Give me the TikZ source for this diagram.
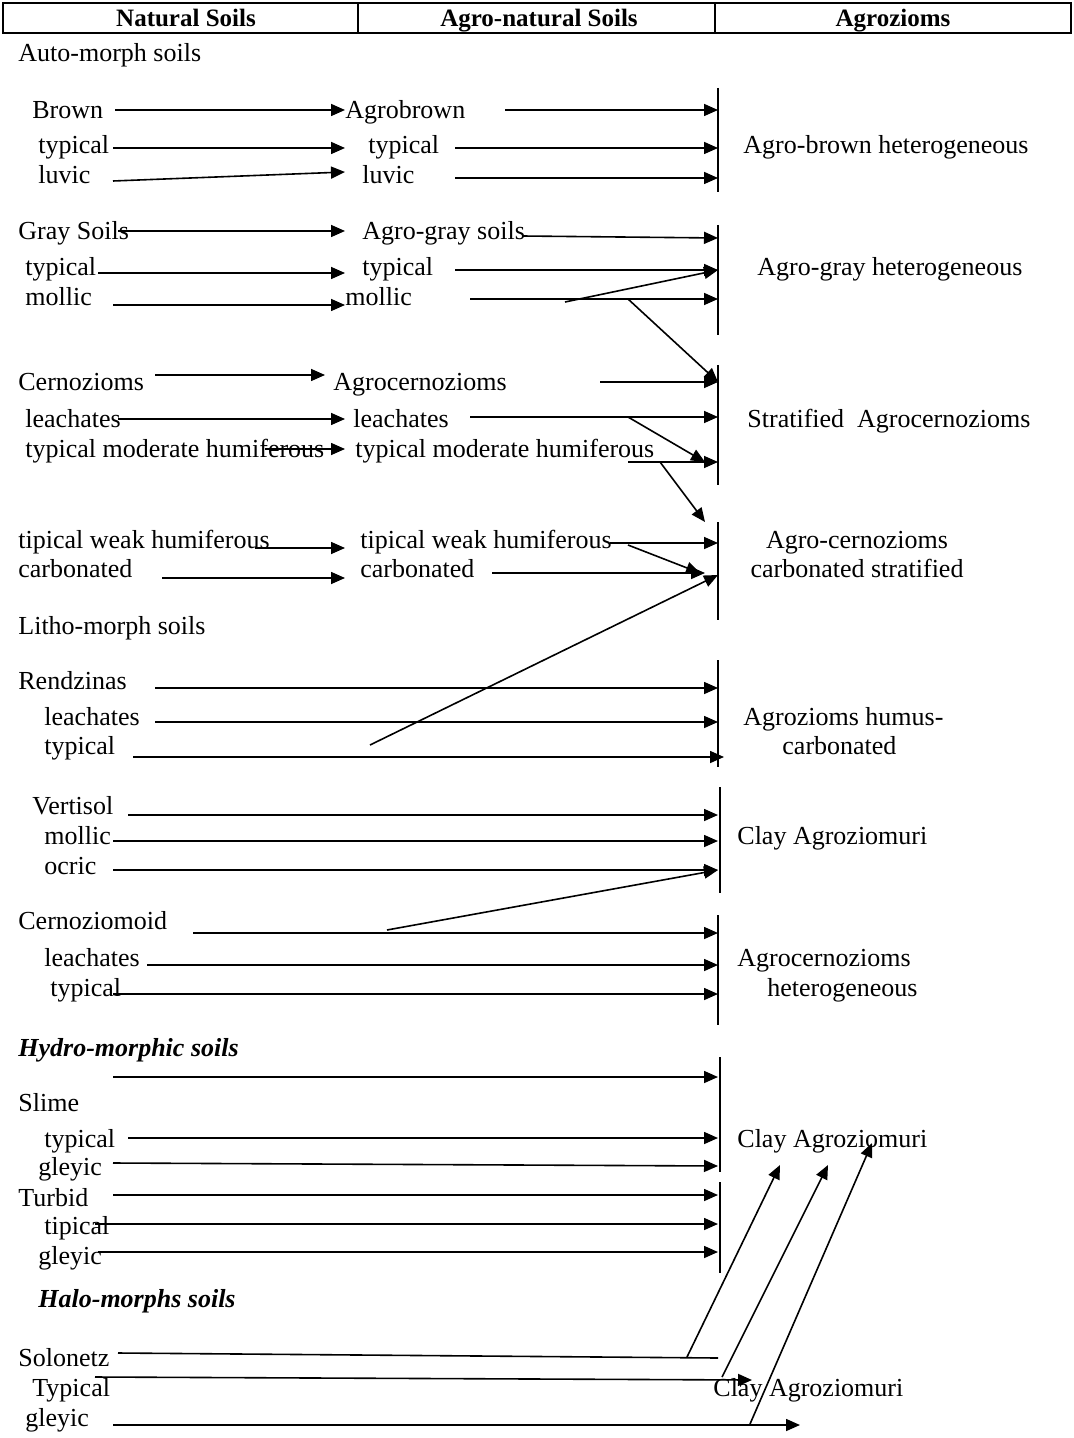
\documentclass[tikz,border=0pt]{standalone}
\usepackage{fontspec}
\setmainfont{Liberation Serif}
\usetikzlibrary{arrows.meta}

\begin{document}
\begin{tikzpicture}[x=0.5pt,y=-0.5pt]
\tikzstyle{every node}=[inner sep=0pt,anchor=base west,font=\fontsize{13}{15}\selectfont];
\tikzstyle{arr}=[-{Triangle[length=7pt,width=6pt]},line width=0.8pt];
\tikzstyle{bar}=[line width=0.8pt];
\tikzstyle{head}=[anchor=base,font=\fontsize{12.5}{15}\selectfont\bfseries];
\tikzstyle{group}=[font=\fontsize{13}{15}\selectfont\bfseries\itshape];
\useasboundingbox (0,0) rectangle (1074,1438);
\draw[line width=1pt] (3,3) rectangle (1071,33) (358,3) -- (358,33) (715,3) -- (715,33);
\node[head] (h1) at (186,27) {Natural Soils};
\node[head] (h2) at (539,27) {Agro-natural Soils};
\node[head] (h3) at (893,27) {Agrozioms};
\node (auto) at (18,62) {Auto-morph soils};
\node (brown) at (32,119) {Brown};
\node (abrown) at (345,119) {Agrobrown};
\node (typ1) at (38,154) {typical};
\node (atyp1) at (368,154) {typical};
\node (luv1) at (38,184) {luvic};
\node (aluv1) at (362,184) {luvic};
\node (zbrown) at (743,154) {Agro-brown heterogeneous};
\node (gray) at (18,240) {Gray Soils};
\node (agray) at (362,240) {Agro-gray soils};
\node (typ2) at (25,276) {typical};
\node (atyp2) at (362,276) {typical};
\node (mol2) at (25,306) {mollic};
\node (amol2) at (345,306) {mollic};
\node (zgray) at (757,276) {Agro-gray heterogeneous};
\node (cern) at (18,391) {Cernozioms};
\node (acern) at (333,391) {Agrocernozioms};
\node (lea3) at (25,428) {leachates};
\node (alea3) at (353,428) {leachates};
\node (mod3) at (25,458) {typical moderate humiferous};
\node (amod3) at (355,458) {typical moderate humiferous};
\node (zstrat) at (747,428) {Stratified\ \ Agrocernozioms};
\node (weak4) at (18,548) {tipical weak humiferous};
\node (aweak4) at (360,548) {tipical weak humiferous};
\node (carb4) at (18,577) {carbonated};
\node (acarb4) at (360,577) {carbonated};
\node[anchor=base] (zcarb1) at (857,548) {Agro-cernozioms};
\node[anchor=base] (zcarb2) at (857,577) {carbonated stratified};
\node (litho) at (18,634) {Litho-morph soils};
\node (rend) at (18,689) {Rendzinas};
\node (lea5) at (44,725) {leachates};
\node (typ5) at (44,754) {typical};
\node (zhum1) at (743,725) {Agrozioms humus-};
\node (zhum2) at (782,754) {carbonated};
\node (vert) at (32,814) {Vertisol};
\node (mol6) at (44,844) {mollic};
\node (ocr6) at (44,874) {ocric};
\node (zclay1) at (737,844) {Clay Agroziomuri};
\node (cmoid) at (18,929) {Cernoziomoid};
\node (lea7) at (44,966) {leachates};
\node (typ7) at (50,996) {typical};
\node (zhet1) at (737,966) {Agrocernozioms};
\node (zhet2) at (767,996) {heterogeneous};
\node[group] (hydro) at (18,1056) {Hydro-morphic soils};
\node (slime) at (18,1111) {Slime};
\node (typ8) at (44,1147) {typical};
\node (gley8) at (38,1175) {gleyic};
\node (turb) at (18,1206) {Turbid};
\node (tip9) at (44,1234) {tipical};
\node (gley9) at (38,1264) {gleyic};
\node (zclay2) at (737,1147) {Clay Agroziomuri};
\node[group] (halo) at (38,1307) {Halo-morphs soils};
\node (solo) at (18,1366) {Solonetz};
\node (typ10) at (32,1396) {Typical};
\node (gley10) at (25,1426) {gleyic};
\node (zclay3) at (713,1396) {Clay Agroziomuri};
\coordinate (t1) at (718,88); \coordinate (b1) at (718,192);
\coordinate (t2) at (718,225); \coordinate (b2) at (718,335);
\coordinate (t3) at (718,365); \coordinate (b3) at (718,485);
\coordinate (t4) at (718,522); \coordinate (b4) at (718,620);
\coordinate (t5) at (718,660); \coordinate (b5) at (718,767);
\coordinate (t6) at (720,787); \coordinate (b6) at (720,893);
\coordinate (t7) at (718,915); \coordinate (b7) at (718,1025);
\coordinate (t8) at (720,1057); \coordinate (b8) at (720,1172);
\coordinate (t9) at (720,1182); \coordinate (b9) at (720,1273);
\draw[bar] (t1) -- (b1) (t2) -- (b2) (t3) -- (b3) (t4) -- (b4) (t5) -- (b5)
(t6) -- (b6) (t7) -- (b7) (t8) -- (b8) (t9) -- (b9);
\coordinate (p1) at (115,110); \coordinate (q1) at (345,110);
\coordinate (p2) at (505,110); \coordinate (q2) at (718,110);
\coordinate (p3) at (113,148); \coordinate (q3) at (345,148);
\coordinate (p4) at (455,148); \coordinate (q4) at (718,148);
\coordinate (p5) at (113,181); \coordinate (q5) at (345,172);
\coordinate (p6) at (455,178); \coordinate (q6) at (718,178);
\coordinate (p7) at (118,231); \coordinate (q7) at (345,231);
\coordinate (p8) at (522,236); \coordinate (q8) at (718,238);
\coordinate (p9) at (98,273); \coordinate (q9) at (345,273);
\coordinate (p10) at (455,270); \coordinate (q10) at (718,270);
\coordinate (p11) at (113,305); \coordinate (q11) at (345,305);
\coordinate (p12) at (470,299); \coordinate (q12) at (718,299);
\coordinate (p13) at (565,302);
\coordinate (p14) at (628,299); \coordinate (q14) at (718,382);
\coordinate (p15) at (155,375); \coordinate (q15) at (325,375);
\coordinate (p16) at (600,382);
\coordinate (p17) at (118,419); \coordinate (q17) at (345,419);
\coordinate (p18) at (470,417); \coordinate (q18) at (718,417);
\coordinate (p19) at (628,417); \coordinate (q19) at (705,462);
\coordinate (p20) at (265,449); \coordinate (q20) at (345,449);
\coordinate (p21) at (628,462); \coordinate (q21) at (718,462);
\coordinate (p22) at (660,462); \coordinate (q22) at (705,522);
\coordinate (p23) at (255,548); \coordinate (q23) at (345,548);
\coordinate (p24) at (610,543); \coordinate (q24) at (718,543);
\coordinate (p25) at (628,545); \coordinate (q25) at (700,573);
\coordinate (p26) at (162,578); \coordinate (q26) at (345,578);
\coordinate (p27) at (492,573); \coordinate (q27) at (705,573);
\coordinate (p28) at (370,745); \coordinate (q28) at (718,575);
\coordinate (p29) at (155,688); \coordinate (q29) at (718,688);
\coordinate (p30) at (155,722); \coordinate (q30) at (718,722);
\coordinate (p31) at (133,757); \coordinate (q31) at (724,757);
\coordinate (p32) at (128,815); \coordinate (q32) at (718,815);
\coordinate (p33) at (113,841); \coordinate (q33) at (718,841);
\coordinate (p34) at (113,870); \coordinate (q34) at (718,870);
\coordinate (p35) at (387,930);
\coordinate (p36) at (193,933); \coordinate (q36) at (718,933);
\coordinate (p37) at (147,965); \coordinate (q37) at (718,965);
\coordinate (p38) at (113,994); \coordinate (q38) at (718,994);
\coordinate (p39) at (113,1077); \coordinate (q39) at (718,1077);
\coordinate (p40) at (128,1138); \coordinate (q40) at (718,1138);
\coordinate (p41) at (113,1163); \coordinate (q41) at (718,1166);
\coordinate (p42) at (113,1195); \coordinate (q42) at (718,1195);
\coordinate (p43) at (95,1224); \coordinate (q43) at (718,1224);
\coordinate (p44) at (98,1252); \coordinate (q44) at (718,1252);
\coordinate (p45) at (118,1353); \coordinate (q45) at (718,1358);
\coordinate (p46) at (687,1357); \coordinate (q46) at (780,1165);
\coordinate (p47) at (95,1377); \coordinate (q47) at (752,1380);
\coordinate (p48) at (722,1377); \coordinate (q48) at (828,1165);
\coordinate (p49) at (113,1425); \coordinate (q49) at (800,1425);
\coordinate (p50) at (750,1424); \coordinate (q50) at (872,1143);
\draw[arr] (p1) -- (q1);
\draw[arr] (p2) -- (q2);
\draw[arr] (p3) -- (q3);
\draw[arr] (p4) -- (q4);
\draw[arr] (p5) -- (q5);
\draw[arr] (p6) -- (q6);
\draw[arr] (p7) -- (q7);
\draw[arr] (p8) -- (q8);
\draw[arr] (p9) -- (q9);
\draw[arr] (p10) -- (q10);
\draw[arr] (p11) -- (q11);
\draw[arr] (p12) -- (q12);
\draw[arr] (p13) -- (q10);
\draw[arr] (p14) -- (q14);
\draw[arr] (p15) -- (q15);
\draw[arr] (p16) -- (q14);
\draw[arr] (p17) -- (q17);
\draw[arr] (p18) -- (q18);
\draw[arr] (p19) -- (q19);
\draw[arr] (p20) -- (q20);
\draw[arr] (p21) -- (q21);
\draw[arr] (p22) -- (q22);
\draw[arr] (p23) -- (q23);
\draw[arr] (p24) -- (q24);
\draw[arr] (p25) -- (q25);
\draw[arr] (p26) -- (q26);
\draw[arr] (p27) -- (q27);
\draw[arr] (p28) -- (q28);
\draw[arr] (p29) -- (q29);
\draw[arr] (p30) -- (q30);
\draw[arr] (p31) -- (q31);
\draw[arr] (p32) -- (q32);
\draw[arr] (p33) -- (q33);
\draw[arr] (p34) -- (q34);
\draw[arr] (p35) -- (q34);
\draw[arr] (p36) -- (q36);
\draw[arr] (p37) -- (q37);
\draw[arr] (p38) -- (q38);
\draw[arr] (p39) -- (q39);
\draw[arr] (p40) -- (q40);
\draw[arr] (p41) -- (q41);
\draw[arr] (p42) -- (q42);
\draw[arr] (p43) -- (q43);
\draw[arr] (p44) -- (q44);
\draw[bar] (p45) -- (q45);
\draw[arr] (p46) -- (q46);
\draw[arr] (p47) -- (q47);
\draw[arr] (p48) -- (q48);
\draw[arr] (p49) -- (q49);
\draw[arr] (p50) -- (q50);
\end{tikzpicture}
\end{document}
